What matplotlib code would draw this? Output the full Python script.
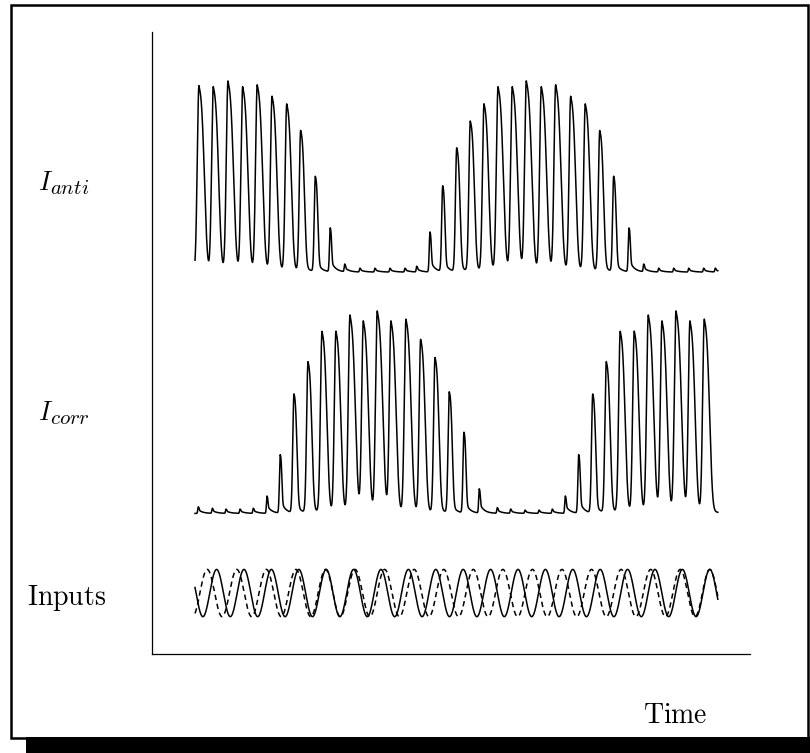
import numpy as np
import matplotlib
matplotlib.use("Agg")
import matplotlib.pyplot as plt
import matplotlib.patches as patches

plt.rcParams["mathtext.fontset"] = "cm"

# peak times (ms) and relative heights of each cycle
anti_times = [3.6, 16.7, 30.1, 43.5, 56.8, 70.3, 83.7, 96.4, 109.8, 123.4,
              136.6, 150.5, 164.2, 177.9, 191.6, 202.3, 214.4, 226.0, 238.8,
              251.2, 263.7, 276.5, 289.5, 302.3, 316.0, 329.1, 342.8, 356.1,
              369.3, 382.0, 396.0, 409.4, 423.1, 436.8, 450.5, 464.1, 474.7]
anti_heights = [0.98, 0.97, 1.00, 0.97, 0.98, 0.92, 0.88, 0.74, 0.50, 0.23,
                0.04, 0.02, 0.02, 0.02, 0.02, 0.03, 0.21, 0.45, 0.65,
                0.79, 0.88, 0.97, 0.97, 1.00, 0.97, 0.98, 0.92, 0.88,
                0.74, 0.50, 0.23, 0.04, 0.02, 0.02, 0.02, 0.02, 0.02]

corr_times = [3.0, 15.8, 28.3, 41.1, 53.2, 65.7, 77.8, 90.3, 103.1, 115.9,
              128.6, 141.4, 153.6, 166.3, 178.8, 192.5, 205.9, 219.0, 232.0,
              245.4, 259.4, 275.8, 288.0, 301.1, 313.9, 326.0, 337.9, 350.1,
              362.9, 375.3, 388.0, 400.8, 413.6, 426.1, 438.9, 451.6, 464.7]
corr_heights = [0.033, 0.025, 0.021, 0.021, 0.025, 0.086, 0.29, 0.59, 0.75, 0.90,
                0.90, 0.98, 0.95, 1.00, 0.95, 0.96, 0.86, 0.77, 0.60,
                0.40, 0.12, 0.028, 0.021, 0.016, 0.016, 0.021, 0.086, 0.29,
                0.59, 0.75, 0.90, 0.90, 0.98, 0.95, 1.00, 0.95, 0.96]

# the two input sinusoids: period (ms) and time of one peak (ms)
input_periods = [25.0, 26.97]
input_peak_times = [19.7, 469.7]
input_styles = ["-", (0, (3.5, 2.5))]

t_end = 477.0
t = np.linspace(0, t_end, 8000)


def trace(times, heights):
    y = np.zeros_like(t)
    for tp, h in zip(times, heights):
        dt = t - tp
        wr = 0.6 + 1.6 * h
        wf = 1.0 + 5.0 * h ** 1.5
        a = 0.12 + 0.5 * (1 - h) ** 4
        rise = np.exp(-(np.clip(-dt, 0, None) / wr) ** 2)
        d = np.clip(dt, 0, None)
        fall = (1 - a) * np.exp(-(d / wf) ** 3) + a * np.exp(-d / 4.0)
        y += h * np.where(dt < 0, rise, fall)
    return y


W, H = 810, 753
fig = plt.figure(figsize=(W / 100, H / 100), dpi=100)
ax = fig.add_axes([152 / W, (H - 654) / H, (750 - 152) / W, (654 - 32) / H])

# vertical placement of the three rows (axes units 0..1)
anti_base, anti_scale = 0.614, 0.306
corr_base, corr_scale = 0.226, 0.324
inp_base, inp_amp = 0.098, 0.038

ax.plot(t, anti_base + anti_scale * trace(anti_times, anti_heights),
        color="black", lw=1.1)
ax.plot(t, corr_base + corr_scale * trace(corr_times, corr_heights),
        color="black", lw=1.1)
for period, tpk, ls in zip(input_periods, input_peak_times, input_styles):
    ax.plot(t, inp_base + inp_amp * np.cos(2 * np.pi * (t - tpk) / period),
            color="black", lw=1.1, linestyle=ls)

ax.set_xlim(-(195 - 152) / 1.096, (750 - 195) / 1.096)
ax.set_ylim(0, 1)
ax.spines["top"].set_visible(False)
ax.spines["right"].set_visible(False)
ax.spines["left"].set_linewidth(0.9)
ax.spines["bottom"].set_linewidth(0.9)
ax.set_xticks([])
ax.set_yticks([])

# I with a large subscript, drawn as two pieces
renderer = fig.canvas.get_renderer()
for sub, yc in [("anti", 183), ("corr", 413)]:
    big = fig.text(38 / W, 1 - (yc + 7) / H, r"$I$", fontsize=19,
                   va="baseline", ha="left")
    x1 = big.get_window_extent(renderer).x1
    fig.text((x1 - 3) / W, 1 - (yc + 11) / H, r"$%s$" % sub, fontsize=15,
             va="baseline", ha="left")

fig.text(27 / W, 1 - 598 / H, r"$\mathrm{Inputs}$", fontsize=20, va="center", ha="left")
fig.text(643 / W, 1 - 715 / H, r"$\mathrm{Time}$", fontsize=20, va="center", ha="left")

# framed box with drop shadow
fig.patches.append(patches.Rectangle((26 / W, 0), (W - 26) / W, (H - 737) / H,
                                     transform=fig.transFigure, facecolor="black",
                                     edgecolor="none"))
fig.patches.append(patches.Rectangle((11 / W, 1 - 738 / H), (808 - 11) / W, (738 - 5) / H,
                                     transform=fig.transFigure, fill=False,
                                     edgecolor="black", lw=1.8))

fig.savefig("out.png", dpi=100)
